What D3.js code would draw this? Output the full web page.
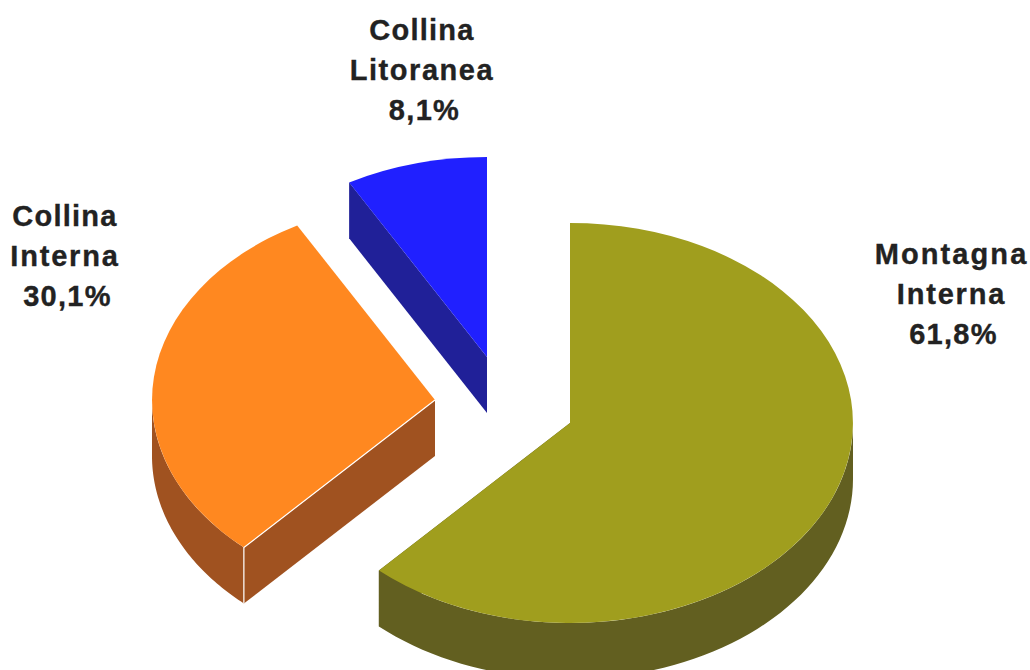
<!DOCTYPE html>
<html><head><meta charset="utf-8">
<style>html,body{margin:0;padding:0;background:#fff;overflow:hidden}svg{display:block}
text{font-family:"Liberation Sans",Arial,sans-serif;font-weight:700;font-size:29px;fill:#222;text-anchor:middle;stroke:#222;stroke-width:.35px}</style>
<script src="https://cdn.jsdelivr.net/npm/d3@7"></script>
</head><body><svg id="c" width="1030" height="670"></svg>
<script>
const categories = ["Montagna Interna", "Collina Interna", "Collina Litoranea"];
const values = [61.8, 30.1, 8.1];
const valueLabels = ["61,8%", "30,1%", "8,1%"];
const labelLines = [["Montagna","Interna"],["Collina","Interna"],["Collina","Litoranea"]];
const topColors = ["#a09e1e", "#ff8820", "#2020ff"];
const sideColors = ["#625f20", "#a05220", "#202098"];

const layout = [
  {cx:570, cy:423, lx:951, ly:264, sp:[2.1,1.8,1.3], dx:[0.5,0.5,2.5]},
  {cx:435, cy:400, lx:65, ly:226, sp:[1.25,1.8,1.3], dx:[0,0,2.5]},
  {cx:487, cy:357, lx:422, ly:40, sp:[1.25,1.55,1.3], dx:[0,0,2.5]}
];
const rx = 283, ry = 200, depth = 56, lineH = 40;

const svg = d3.select("#c");
const pie = d3.pie().sort(null).startAngle(0).endAngle(2*Math.PI)(values);
const arc = d3.arc().innerRadius(0).outerRadius(1);
const pt = (c,a,dz=0)=>[c.cx+rx*Math.sin(a), c.cy-ry*Math.cos(a)+dz];
const line = d3.line();

// paint order: back to front
[2,1,0].forEach(i=>{
  const p = pie[i], c = layout[i], g = svg.append("g");
  const a0 = p.startAngle, a1 = p.endAngle;
  const apex = [c.cx,c.cy], apexB = [c.cx,c.cy+depth];

  // flat cut walls visible from the viewer
  const cuts = i===0 ? [a1] : i===1 ? [a0] : [a0, a1];
  cuts.forEach(a=>{
    g.append("path").attr("fill",sideColors[i])
     .attr("d",line([apex,pt(c,a),pt(c,a,depth),apexB])+"Z");
  });

  // outer curved wall on the front half of the ellipse
  const s = Math.max(a0,Math.PI/2), e = Math.min(a1,3*Math.PI/2);
  if (e>s){
    const th = d3.range(0,61).map(k=>s+(e-s)*k/60);
    g.append("path").attr("fill",sideColors[i])
     .attr("d",line(th.map(a=>pt(c,a)).concat(th.slice().reverse().map(a=>pt(c,a,depth))))+"Z");
  }
  // top face
  g.append("path").attr("fill",topColors[i])
   .attr("transform",`translate(${c.cx},${c.cy}) scale(${rx},${ry})`)
   .attr("d",arc({startAngle:a0,endAngle:a1}));
});

// white hairlines on the orange slice's front edge
{
  const c = layout[1], a = pie[1].startAngle;
  svg.append("path").attr("fill","none").attr("stroke","#fff").attr("stroke-width",1.2)
   .attr("d",line([pt(c,a,depth),pt(c,a),[c.cx,c.cy]]));
}

labelLines.forEach((ls,i)=>{
  const c = layout[i], t = svg.append("text");
  ls.concat(valueLabels[i]).forEach((s,k)=>{
    t.append("tspan").attr("x",c.lx+c.dx[k]).attr("y",c.ly+k*lineH)
     .style("letter-spacing",c.sp[k]+"px").text(s);
  });
});
</script></body></html>
